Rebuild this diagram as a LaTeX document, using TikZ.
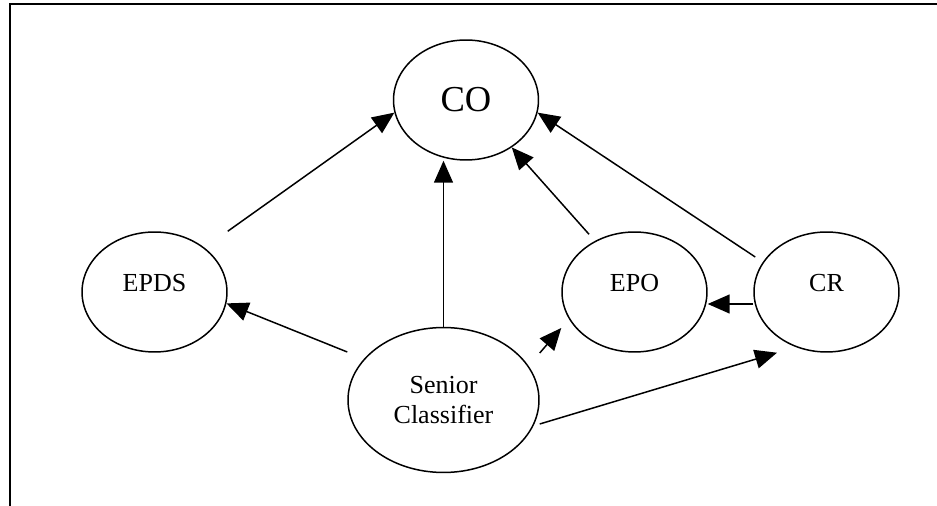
\documentclass[tikz,border=0pt]{standalone}
\usepackage{fontspec}
\setmainfont{Liberation Serif}
\usepackage{tikz}
\usetikzlibrary{shapes.geometric, arrows.meta, calc}

\tikzset{
    org/.style={ellipse, draw, line width=0.85pt, minimum width=2.9cm, minimum height=2.4cm,
        inner sep=0pt, align=center, font=\fontsize{14.8}{17.6}\selectfont},
    toptext/.style={text height=0pt, text depth=0pt},
    rel/.style={line width=0.85pt, -{Triangle[length=0.44cm, width=0.38cm]}},
}

\begin{document}
\begin{tikzpicture}[x=0.02cm, y=-0.02cm]
        \useasboundingbox (0,0) rectangle (937,506);
        % Frame
        \draw[line width=1.1pt] (10,506) -- (10,4) -- (937,4);

        % Units
        \node[org, font=\fontsize{20.8}{24}\selectfont] (co) at (466,100) {CO};
        \node[org, toptext] (epds) at (154.5,292) {EPDS};
        \node[org, toptext] (epo) at (634.5,292) {EPO};
        \node[org, toptext] (cr) at (826.5,292) {CR};
        \node[org, minimum width=3.82cm, minimum height=2.9cm] (sc) at (443.5,400) {Senior\\Classifier};

        % Lines to CO
        \draw[rel] (epds.north -| epds.east) -- (co.190);
        \draw[rel] (sc.north) -- (sc.north |- co.south);
        \draw[rel] ($(epo.north)+(-45.5,3)$) -- (co.-46);
        \draw[rel] ($(cr.west)+(2,-35)$) -- (co.-10);

        % Lines from Senior Classifier
        \draw[rel] ($(sc.west)+(0,-48)$) -- (epds.-9);
        \draw[rel] ($(sc.east)+(0,-47)$) -- ($(epo.west)+(0,36)$);
        \draw[rel] ($(sc.east)+(0,24)$) -- ($(cr.south)+(-49.5,0)$);

        % CR to EPO
        \draw[rel] ($(cr.west)+(0,12)$) -- ($(epo.east)+(0,12)$);
\end{tikzpicture}
\end{document}
